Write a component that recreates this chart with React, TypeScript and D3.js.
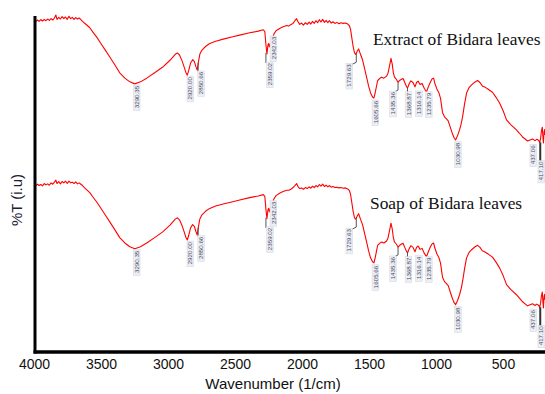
import React, { useEffect, useRef } from "react";
import * as d3 from "d3";

const width = 545;
const height = 394;

// wavenumber tick labels printed under the frame
const tickValues = [4000, 3500, 3000, 2500, 2000, 1500, 1000, 500];

const seriesNames = ["Extract of Bidara leaves", "Soap of Bidara leaves"];

// [wavenumber (1/cm), %T]
const extractSpectrum: [number, number][] = [
  [4000, 98.5], [3988, 98.3], [3976, 98.8], [3964, 98.4], [3952, 98.9], [3940, 98.5], [3928, 99.0],
  [3916, 98.6], [3904, 99.1], [3892, 98.7], [3880, 99.2], [3868, 98.8], [3856, 99.4], [3846, 100.3],
  [3838, 99.0], [3826, 99.6], [3814, 99.1], [3802, 99.8], [3790, 99.2], [3778, 99.7], [3766, 99.0],
  [3754, 99.9], [3742, 99.2], [3730, 99.6], [3718, 99.0], [3706, 99.5], [3694, 99.1], [3682, 99.4],
  [3670, 98.9], [3658, 98.4], [3645, 97.9], [3630, 97.4], [3607, 96.5], [3585, 95.2], [3558, 93.7],
  [3530, 91.9], [3500, 90.0], [3466, 87.8], [3430, 85.4], [3396, 83.1], [3360, 81.5], [3325, 80.4],
  [3290, 79.8], [3250, 80.4], [3206, 81.5], [3150, 83.1], [3093, 84.8], [3040, 86.9], [3005, 88.6],
  [2990, 89.0], [2975, 88.4], [2958, 86.8], [2942, 84.8], [2930, 83.2], [2920, 82.4], [2910, 83.8],
  [2897, 86.0], [2882, 87.0], [2870, 86.4], [2860, 85.0], [2850, 83.9], [2842, 86.2], [2832, 88.6],
  [2818, 89.8], [2790, 91.0], [2762, 91.8], [2720, 92.5], [2660, 93.2], [2600, 93.8], [2551, 94.3],
  [2480, 95.0], [2420, 95.5], [2385, 95.9], [2374, 95.4], [2366, 91.5], [2359, 88.7], [2352, 91.3],
  [2347, 91.8], [2342, 90.8], [2334, 92.0], [2322, 93.0], [2310, 94.6], [2295, 95.6], [2270, 96.3],
  [2245, 96.8], [2220, 97.2], [2205, 97.0], [2190, 97.5], [2175, 97.8], [2162, 98.6], [2150, 99.2],
  [2140, 98.3], [2128, 97.5], [2115, 97.9], [2102, 97.3], [2088, 98.0], [2075, 97.5], [2062, 98.2],
  [2050, 97.6], [2038, 98.4], [2026, 97.8], [2014, 98.6], [2002, 98.0], [1990, 98.9], [1978, 98.2],
  [1966, 99.0], [1954, 98.1], [1942, 98.7], [1930, 98.0], [1918, 98.6], [1906, 97.9], [1894, 98.3],
  [1880, 97.8], [1866, 98.1], [1852, 97.7], [1838, 98.0], [1822, 97.8], [1806, 97.9], [1790, 97.6],
  [1778, 97.1], [1770, 96.0], [1762, 93.8], [1752, 91.0], [1742, 89.0], [1733, 88.6], [1722, 89.6],
  [1713, 90.2], [1700, 88.6], [1685, 86.9], [1670, 84.2], [1657, 81.8], [1643, 79.2], [1629, 77.1],
  [1615, 75.9], [1605, 75.6], [1595, 77.4], [1579, 80.8], [1565, 81.4], [1551, 81.8], [1535, 81.5],
  [1516, 82.1], [1506, 83.0], [1496, 85.0], [1485, 87.4], [1476, 85.6], [1468, 83.0], [1460, 81.8],
  [1448, 81.2], [1435, 80.3], [1422, 80.9], [1410, 81.2], [1400, 81.4], [1388, 80.2], [1376, 79.0],
  [1368, 78.6], [1356, 79.9], [1345, 80.7], [1330, 80.2], [1316, 78.9], [1305, 80.2], [1294, 80.6],
  [1280, 79.6], [1266, 79.9], [1250, 78.4], [1235, 77.4], [1222, 78.9], [1208, 80.3], [1195, 81.3],
  [1185, 81.5], [1176, 80.0], [1162, 78.3], [1148, 77.2], [1136, 75.5], [1122, 71.3], [1108, 70.0],
  [1094, 69.4], [1082, 68.8], [1068, 67.0], [1054, 65.2], [1042, 63.9], [1030, 63.1], [1016, 64.4],
  [1002, 66.1], [990, 68.0], [980, 70.2], [966, 74.0], [953, 77.0], [935, 78.7], [917, 79.5],
  [895, 80.3], [875, 80.8], [858, 80.2], [842, 79.2], [826, 78.9], [800, 78.2], [770, 77.3],
  [745, 75.8], [720, 74.1], [695, 71.8], [671, 69.1], [640, 67.6], [601, 66.1], [580, 65.1],
  [558, 64.0], [540, 63.4], [523, 62.8], [505, 63.1], [488, 63.4], [470, 62.9], [458, 63.3],
  [446, 63.0], [437, 62.4], [431, 63.6], [425, 65.8], [419, 66.9], [415, 64.2], [411, 62.2],
  [407, 65.3], [403, 66.2], [400, 64.6],
];

const soapSpectrum: [number, number][] = [
  [4000, 98.7], [3988, 98.4], [3976, 98.9], [3964, 98.5], [3952, 98.8], [3940, 98.4], [3928, 99.1],
  [3916, 98.7], [3904, 99.0], [3892, 98.6], [3880, 99.3], [3868, 98.9], [3856, 99.5], [3846, 100.1],
  [3838, 99.1], [3826, 99.7], [3814, 99.0], [3802, 99.7], [3790, 99.3], [3778, 99.8], [3766, 99.1],
  [3754, 99.8], [3742, 99.3], [3730, 99.5], [3718, 99.1], [3706, 99.6], [3694, 99.0], [3682, 99.3],
  [3670, 98.9], [3658, 98.5], [3645, 97.9], [3630, 97.3], [3607, 96.4], [3585, 95.1], [3558, 93.6],
  [3530, 91.8], [3500, 89.9], [3466, 87.7], [3430, 85.3], [3396, 83.0], [3360, 81.4], [3325, 80.3],
  [3290, 79.7], [3250, 80.3], [3206, 81.4], [3150, 83.0], [3093, 84.7], [3040, 86.8], [3005, 88.5],
  [2990, 88.9], [2975, 88.3], [2958, 86.7], [2942, 84.7], [2930, 83.1], [2920, 82.3], [2910, 83.7],
  [2897, 85.9], [2882, 86.9], [2870, 86.3], [2860, 84.9], [2850, 83.8], [2842, 86.1], [2832, 88.5],
  [2818, 89.7], [2790, 90.9], [2762, 91.7], [2720, 92.4], [2660, 93.1], [2600, 93.7], [2551, 94.2],
  [2480, 94.9], [2420, 95.4], [2385, 95.8], [2374, 95.3], [2366, 91.4], [2359, 88.6], [2352, 91.2],
  [2347, 91.7], [2342, 90.7], [2334, 91.9], [2322, 92.9], [2310, 94.5], [2295, 95.5], [2270, 96.2],
  [2245, 96.7], [2220, 97.1], [2205, 97.1], [2190, 97.4], [2175, 97.9], [2162, 98.5], [2150, 99.1],
  [2140, 98.2], [2128, 97.6], [2115, 97.8], [2102, 97.4], [2088, 97.9], [2075, 97.6], [2062, 98.1],
  [2050, 97.7], [2038, 98.3], [2026, 97.9], [2014, 98.5], [2002, 98.1], [1990, 98.8], [1978, 98.3],
  [1966, 98.9], [1954, 98.2], [1942, 98.6], [1930, 98.1], [1918, 98.5], [1906, 98.0], [1894, 98.2],
  [1880, 97.9], [1866, 98.0], [1852, 97.8], [1838, 97.9], [1822, 97.7], [1806, 97.8], [1790, 97.5],
  [1778, 97.0], [1770, 95.9], [1762, 93.7], [1752, 90.9], [1742, 88.9], [1733, 88.5], [1722, 89.5],
  [1713, 90.1], [1700, 88.5], [1685, 86.8], [1670, 84.1], [1657, 81.7], [1643, 79.1], [1629, 77.0],
  [1615, 75.8], [1605, 75.5], [1595, 77.3], [1579, 80.7], [1565, 81.3], [1551, 81.7], [1535, 81.4],
  [1516, 82.0], [1506, 82.9], [1496, 84.9], [1485, 87.3], [1476, 85.5], [1468, 82.9], [1460, 81.7],
  [1448, 81.1], [1435, 80.2], [1422, 80.8], [1410, 81.1], [1400, 81.3], [1388, 80.1], [1376, 78.9],
  [1368, 78.5], [1356, 79.8], [1345, 80.6], [1330, 80.1], [1316, 78.8], [1305, 80.1], [1294, 80.5],
  [1280, 79.5], [1266, 79.8], [1250, 78.3], [1235, 77.3], [1222, 78.8], [1208, 80.2], [1195, 81.2],
  [1185, 81.4], [1176, 79.9], [1162, 78.2], [1148, 77.1], [1136, 75.4], [1122, 71.2], [1108, 69.9],
  [1094, 69.3], [1082, 68.7], [1068, 66.9], [1054, 65.1], [1042, 63.8], [1030, 63.0], [1016, 64.3],
  [1002, 66.0], [990, 67.9], [980, 70.1], [966, 73.9], [953, 76.9], [935, 78.6], [917, 79.4],
  [895, 80.2], [875, 80.7], [858, 80.1], [842, 79.1], [826, 78.8], [800, 78.1], [770, 77.2],
  [745, 75.7], [720, 74.0], [695, 71.7], [671, 69.0], [640, 67.5], [601, 66.0], [580, 65.0],
  [558, 63.9], [540, 63.3], [523, 62.7], [505, 63.0], [488, 63.3], [470, 62.8], [458, 63.2],
  [446, 62.9], [437, 62.3], [431, 63.5], [425, 65.7], [419, 66.8], [415, 64.1], [411, 62.1],
  [407, 65.2], [403, 66.1], [400, 64.5],
];

// picked peaks, wavenumber and printed label
const peakWavenumbers = [3290.35, 2920.0, 2850.66, 2359.02, 2342.03, 1729.63, 1605.66, 1435.36, 1368.87, 1316.14, 1235.79, 1030.98, 437.06, 417.1];
const peakTexts = ["3290.35", "2920.00", "2850.66", "2359.02", "2342.03", "1729.63", "1605.66", "1435.36", "1368.87", "1316.14", "1235.79", "1030.98", "437.06", "417.10"];

// label placement relative to the peak point (dx, dy), and optional leader polyline
const labelLayout: { dx: number; dy: number; leader?: [number, number][] }[] = [
  { dx: 2, dy: 2 },
  { dx: 3, dy: 2 },
  { dx: 4, dy: 2, leader: [[1, -7], [1, 2]] },
  { dx: 3, dy: 9, leader: [[-1, -1], [-1, 9]] },
  { dx: 4, dy: -10 },
  { dx: -7, dy: 11, leader: [[0, 0], [0, 9], [-6, 12]] },
  { dx: 1.5, dy: 3 },
  { dx: -5, dy: 10, leader: [[0, 0], [0, 8], [-4, 10]] },
  { dx: 1, dy: 5, leader: [[0, 0], [0, 5]] },
  { dx: 4, dy: 5 },
  { dx: 2.5, dy: 1 },
  { dx: 2.5, dy: 3 },
  { dx: -6.5, dy: 3, leader: [[0.5, 0], [0.5, 19]] },
  { dx: -1.3, dy: 30 },
];

const x = d3.scaleLinear().domain([4000, 400]).range([34, 545]);
const y = d3.scaleLinear().domain([0, 100]).range([352, 16]);
// printed tick labels sit on their own (slightly compressed) scale
const tickScale = d3.scaleLinear().domain([4000, 500]).range([34, 503]);

const panelOffsets = [0, 164.5];
const legendPos = [
  { x: 373, y: 45 },
  { x: 370, y: 209 },
];

const line = d3
  .line<[number, number]>()
  .x((d) => x(d[0]))
  .y((d) => y(d[1]));

const bisect = d3.bisector((d: [number, number]) => -d[0]).left;
function valueAt(data: [number, number][], wn: number) {
  const i = Math.max(1, Math.min(data.length - 1, bisect(data, -wn)));
  const a = data[i - 1];
  const b = data[i];
  const t = (wn - a[0]) / (b[0] - a[0]);
  return a[1] + t * (b[1] - a[1]);
}

function Spectrum({ data, offset, name, legend }: { data: [number, number][]; offset: number; name: string; legend: { x: number; y: number } }) {
  return (
    <g transform={`translate(0, ${offset})`}>
      <path d={line(data) || ""} fill="none" stroke="#ff0000" strokeWidth={1.1} strokeLinejoin="round" />
      {peakWavenumbers.map((wn, i) => {
        const px = x(wn);
        const py = y(valueAt(data, wn));
        const lay = labelLayout[i];
        const lx = px + lay.dx;
        const ly = py + lay.dy;
        const len = peakTexts[i].length * 3.4;
        return (
          <g key={i}>
            {lay.leader && (
              <polyline
                points={lay.leader.map((p) => `${px + p[0]},${py + p[1]}`).join(" ")}
                fill="none"
                stroke={i === 12 ? "#333" : "#555"}
                strokeWidth={i === 12 ? 2 : 1}
              />
            )}
            <g transform={`translate(${lx}, ${ly}) rotate(-90)`}>
              <rect x={-len - 1} y={-3.3} width={len + 2} height={6.6} fill="#eceef4" stroke="#d2d6e2" strokeWidth={0.5} />
              <text x={0} y={0} dy="0.35em" textAnchor="end" fontSize={6.2} fontFamily="Liberation Sans, Arial, sans-serif" fill="#4a4f66">
                {peakTexts[i]}
              </text>
            </g>
          </g>
        );
      })}
      <text x={legend.x} y={legend.y - offset} fontFamily="Liberation Serif, Times New Roman, serif" fontSize={17.4} fill="#111">
        {name}
      </text>
    </g>
  );
}

export default function App() {
  const axisRef = useRef<SVGGElement>(null);

  useEffect(() => {
    const axis = d3
      .axisBottom(tickScale)
      .tickValues(tickValues)
      .tickSize(0)
      .tickPadding(0)
      .tickFormat((d) => String(d));
    const g = d3.select(axisRef.current).call(axis as any);
    g.select(".domain").remove();
    g.attr("font-family", "Liberation Sans, Arial, sans-serif").attr("font-size", 14);
    g.selectAll("text").attr("fill", "#111");
  }, []);

  return (
    <svg width={width} height={height} style={{ position: "absolute", left: 0, top: 0, background: "#fff" }}>
      <rect width={width} height={height} fill="#fff" />
      <Spectrum data={extractSpectrum} offset={panelOffsets[0]} name={seriesNames[0]} legend={legendPos[0]} />
      <Spectrum data={soapSpectrum} offset={panelOffsets[1]} name={seriesNames[1]} legend={legendPos[1]} />
      <line x1={35} x2={35} y1={16} y2={353.5} stroke="#000" strokeWidth={3} />
      <line x1={33.5} x2={545} y1={352} y2={352} stroke="#000" strokeWidth={3.5} />
      <g ref={axisRef} transform="translate(0, 359)" />
      <text x={273} y={389} textAnchor="middle" fontFamily="Liberation Sans, Arial, sans-serif" fontSize={15} fill="#111">
        Wavenumber (1/cm)
      </text>
      <text transform="translate(22, 200) rotate(-90)" textAnchor="middle" fontFamily="Liberation Sans, Arial, sans-serif" fontSize={15} fill="#1c2033">
        %T (i.u)
      </text>
    </svg>
  );
}
